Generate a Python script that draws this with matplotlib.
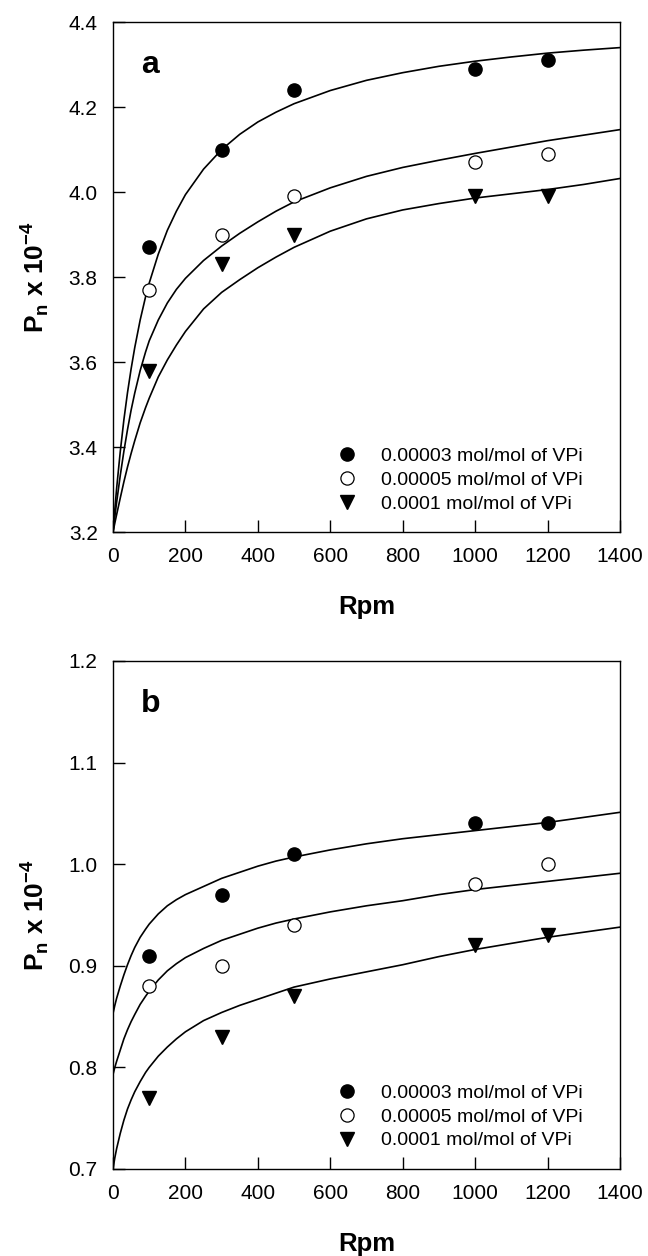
import matplotlib
matplotlib.use("Agg")
import matplotlib.pyplot as plt

plt.rcParams['font.family'] = ['Liberation Sans', 'DejaVu Sans']

rpm = [100, 300, 500, 1000, 1200]
labels = ['0.00003 mol/mol of VPi', '0.00005 mol/mol of VPi', '0.0001 mol/mol of VPi']

# panel a, measured points
a_low = [3.87, 4.10, 4.24, 4.29, 4.31]
a_mid = [3.77, 3.90, 3.99, 4.07, 4.09]
a_high = [3.58, 3.83, 3.90, 3.99, 3.99]

# panel b, measured points
b_low = [0.91, 0.97, 1.01, 1.04, 1.04]
b_mid = [0.88, 0.90, 0.94, 0.98, 1.00]
b_high = [0.77, 0.83, 0.87, 0.92, 0.93]

# fitted curves
curve_x = [0, 5, 10, 20, 30, 40, 50, 60, 75, 90, 100, 125, 150, 175, 200, 250, 300,
           350, 400, 450, 500, 600, 700, 800, 900, 1000, 1100, 1200, 1300, 1400]
a_fit_low = [3.200, 3.253, 3.303, 3.389, 3.464, 3.528, 3.584, 3.634, 3.699, 3.754,
             3.786, 3.854, 3.910, 3.955, 3.994, 4.054, 4.100, 4.136, 4.165, 4.188,
             4.208, 4.239, 4.263, 4.281, 4.296, 4.308, 4.318, 4.327, 4.334, 4.340]
a_fit_mid = [3.200, 3.236, 3.270, 3.333, 3.390, 3.441, 3.487, 3.527, 3.580, 3.624,
             3.650, 3.699, 3.739, 3.771, 3.797, 3.839, 3.873, 3.903, 3.930, 3.955,
             3.977, 4.010, 4.037, 4.058, 4.075, 4.091, 4.106, 4.121, 4.134, 4.147]
a_fit_high = [3.200, 3.221, 3.241, 3.280, 3.318, 3.353, 3.385, 3.415, 3.457, 3.493,
              3.515, 3.565, 3.605, 3.640, 3.672, 3.725, 3.764, 3.794, 3.822, 3.847,
              3.870, 3.908, 3.937, 3.958, 3.973, 3.986, 3.996, 4.006, 4.018, 4.032]
b_fit_low = [0.853, 0.861, 0.868, 0.880, 0.891, 0.901, 0.910, 0.918, 0.928, 0.936,
             0.941, 0.951, 0.959, 0.965, 0.970, 0.978, 0.986, 0.992, 0.998, 1.003,
             1.007, 1.014, 1.020, 1.025, 1.029, 1.033, 1.037, 1.041, 1.046, 1.051]
b_fit_mid = [0.793, 0.800, 0.806, 0.817, 0.828, 0.837, 0.845, 0.852, 0.862, 0.870,
             0.875, 0.886, 0.895, 0.902, 0.908, 0.917, 0.925, 0.931, 0.937, 0.942,
             0.946, 0.953, 0.959, 0.964, 0.970, 0.975, 0.979, 0.983, 0.987, 0.991]
b_fit_high = [0.700, 0.711, 0.720, 0.735, 0.748, 0.759, 0.768, 0.776, 0.786, 0.795,
              0.800, 0.811, 0.820, 0.828, 0.835, 0.846, 0.854, 0.861, 0.867, 0.873,
              0.879, 0.887, 0.894, 0.901, 0.909, 0.916, 0.922, 0.928, 0.933, 0.938]

xticks = [0, 200, 400, 600, 800, 1000, 1200, 1400]
a_yticks = [3.2, 3.4, 3.6, 3.8, 4.0, 4.2, 4.4]
b_yticks = [0.7, 0.8, 0.9, 1.0, 1.1, 1.2]


def draw_panel(ax, letter, pts, fits, yticks):
    for f in fits:
        ax.plot(curve_x, f, color='black', lw=1.2, zorder=2)
    ax.plot(rpm, pts[0], 'o', ms=9.5, mfc='black', mec='black', ls='none',
            label=labels[0], zorder=3)
    ax.plot(rpm, pts[1], 'o', ms=9.5, mfc='white', mec='black', mew=0.9, ls='none',
            label=labels[1], zorder=3)
    ax.plot(rpm, pts[2], 'v', ms=9.5, mfc='black', mec='black', ls='none',
            label=labels[2], zorder=3)

    ax.set_xlim(0, 1400)
    ax.set_ylim(yticks[0], yticks[-1])
    ax.set_xticks(xticks)
    ax.set_yticks(yticks)
    ax.set_yticklabels(['%.1f' % t for t in yticks])
    ax.tick_params(direction='in', length=8.5, width=1, labelsize=15, pad=11,
                   top=False, right=False)
    for s in ax.spines.values():
        s.set_linewidth(1)

    ax.set_xlabel('Rpm', fontsize=18.5, fontweight='bold', labelpad=21)
    ax.set_ylabel(r'P$_\mathregular{n}$ x 10$^\mathregular{-4}$', fontsize=19,
                  fontweight='bold', labelpad=13)
    ax.text(0.055, 0.9, letter, transform=ax.transAxes, fontsize=23,
            fontweight='bold', va='baseline', ha='left')
    ax.legend(loc='lower left', bbox_to_anchor=(0.423, 0.023), frameon=False,
              fontsize=14, handletextpad=1.15, labelspacing=0.32,
              borderaxespad=0, handlelength=1.2)


fig = plt.figure(figsize=(6.48, 12.56), dpi=100)
ax1 = fig.add_axes([0.1744, 0.5764, 0.7824, 0.406])
ax2 = fig.add_axes([0.1744, 0.0693, 0.7824, 0.4045])

draw_panel(ax1, 'a', [a_low, a_mid, a_high], [a_fit_low, a_fit_mid, a_fit_high], a_yticks)
draw_panel(ax2, 'b', [b_low, b_mid, b_high], [b_fit_low, b_fit_mid, b_fit_high], b_yticks)

fig.savefig('out.png', dpi=100)
